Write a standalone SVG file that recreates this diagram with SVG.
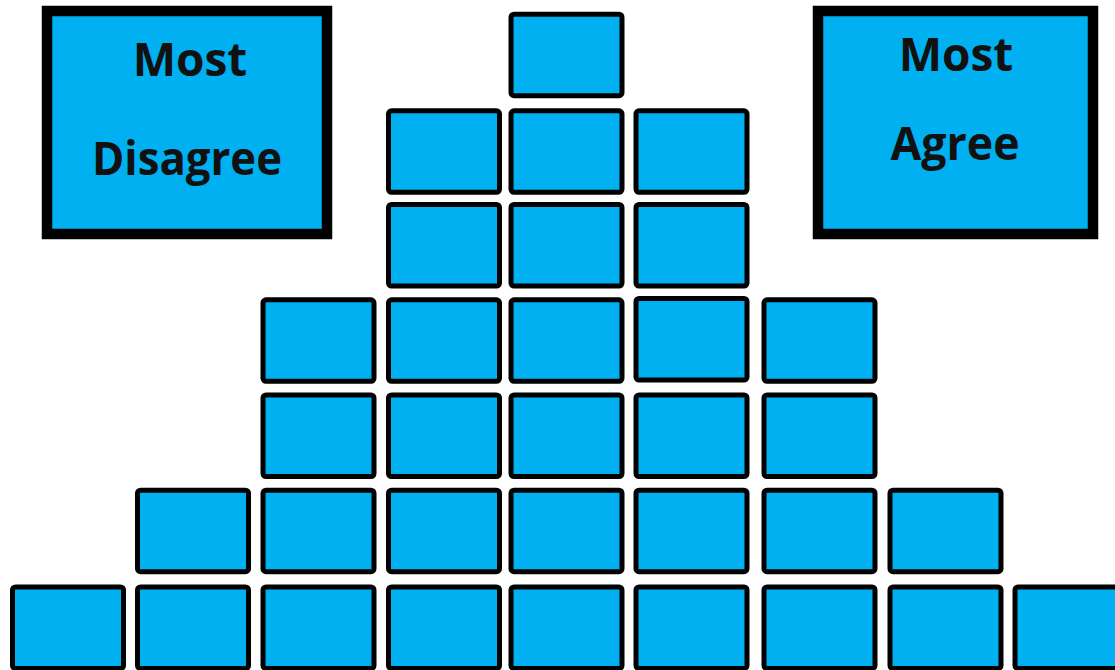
<svg xmlns="http://www.w3.org/2000/svg" width="1115" height="670" viewBox="0 0 1115 670">
  <style>
    .big { fill: #00B0F0; stroke: #000; stroke-width: 10.5; }
    .card { fill: #00B0F0; stroke: #000; stroke-width: 5; }
    .lbl { font-family: "Open Sans", "Liberation Sans", sans-serif; font-weight: 700; font-size: 46px; fill: #111; text-anchor: middle; }
  </style>
  <rect width="1115" height="670" fill="#fff"/>
  <g id="most-disagree">
    <rect class="big" x="47" y="11" width="280" height="223"/>
    <text class="lbl" x="190" y="76">Most</text>
    <text class="lbl" x="187" y="175" textLength="190" lengthAdjust="spacingAndGlyphs">Disagree</text>
  </g>
  <g id="most-agree">
    <rect class="big" x="818" y="11" width="275" height="223"/>
    <text class="lbl" x="956" y="71">Most</text>
    <text class="lbl" x="955" y="160" textLength="129" lengthAdjust="spacingAndGlyphs">Agree</text>
  </g>
  <g id="row1">
    <rect class="card" x="511" y="14.2" width="111" height="81.5" rx="3"/>
  </g>
  <g id="row2">
    <rect class="card" x="388.5" y="110.8" width="111" height="81.5" rx="3"/>
    <rect class="card" x="511" y="110.8" width="111" height="81.5" rx="3"/>
    <rect class="card" x="636" y="110.8" width="111" height="81.5" rx="3"/>
  </g>
  <g id="row3">
    <rect class="card" x="388.5" y="204.5" width="111" height="81.5" rx="3"/>
    <rect class="card" x="511" y="204.5" width="111" height="81.5" rx="3"/>
    <rect class="card" x="636" y="204.5" width="111" height="81.5" rx="3"/>
  </g>
  <g id="row4">
    <rect class="card" x="263" y="299.8" width="111" height="81.5" rx="3"/>
    <rect class="card" x="388.5" y="299.8" width="111" height="81.5" rx="3"/>
    <rect class="card" x="511" y="299.8" width="111" height="81.5" rx="3"/>
    <rect class="card" x="636" y="298.5" width="111" height="81.5" rx="3"/>
    <rect class="card" x="764" y="299.8" width="111" height="81.5" rx="3"/>
  </g>
  <g id="row5">
    <rect class="card" x="263" y="395" width="111" height="81.5" rx="3"/>
    <rect class="card" x="388.5" y="395" width="111" height="81.5" rx="3"/>
    <rect class="card" x="511" y="395" width="111" height="81.5" rx="3"/>
    <rect class="card" x="636" y="395" width="111" height="81.5" rx="3"/>
    <rect class="card" x="764" y="395" width="111" height="81.5" rx="3"/>
  </g>
  <g id="row6">
    <rect class="card" x="137.5" y="490.2" width="111" height="81.5" rx="3"/>
    <rect class="card" x="263" y="490.2" width="111" height="81.5" rx="3"/>
    <rect class="card" x="388.5" y="490.2" width="111" height="81.5" rx="3"/>
    <rect class="card" x="511" y="490.2" width="111" height="81.5" rx="3"/>
    <rect class="card" x="636" y="490.2" width="111" height="81.5" rx="3"/>
    <rect class="card" x="764" y="490.2" width="111" height="81.5" rx="3"/>
    <rect class="card" x="890" y="490.2" width="111" height="81.5" rx="3"/>
  </g>
  <g id="row7">
    <rect class="card" x="12.5" y="587" width="111" height="81.5" rx="3"/>
    <rect class="card" x="137.5" y="587" width="111" height="81.5" rx="3"/>
    <rect class="card" x="263" y="587" width="111" height="81.5" rx="3"/>
    <rect class="card" x="388.5" y="587" width="111" height="81.5" rx="3"/>
    <rect class="card" x="511" y="587" width="111" height="81.5" rx="3"/>
    <rect class="card" x="636" y="587" width="111" height="81.5" rx="3"/>
    <rect class="card" x="764" y="587" width="111" height="81.5" rx="3"/>
    <rect class="card" x="890" y="587" width="111" height="81.5" rx="3"/>
    <rect class="card" x="1015" y="587" width="111" height="81.5" rx="3"/>
  </g>
  <g id="connectors"/>
</svg>
